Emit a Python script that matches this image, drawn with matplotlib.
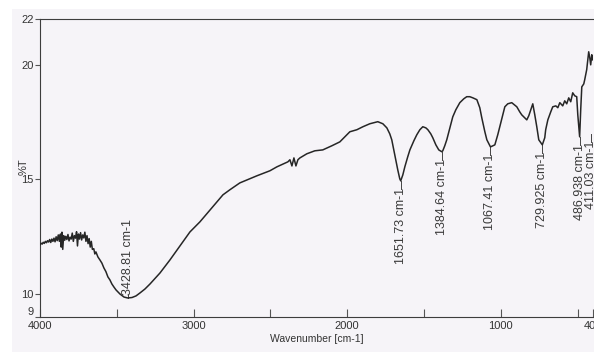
import matplotlib
matplotlib.use("Agg")
import matplotlib.pyplot as plt
from matplotlib.patches import Rectangle

# FTIR transmittance spectrum (wavenumber in cm-1, %T)
wavenumber = [
    4000, 3993, 3986, 3979, 3972, 3965, 3958, 3951, 3944, 3937, 3930, 3923,
    3916, 3909, 3902, 3895, 3888, 3881, 3874, 3867, 3862, 3857, 3852, 3846,
    3839, 3832, 3825, 3818, 3811, 3804, 3797, 3790, 3783, 3776, 3769, 3762,
    3756, 3750, 3743, 3736, 3729, 3722, 3715, 3708, 3701, 3694, 3687, 3680,
    3673, 3666, 3659, 3650, 3643, 3636, 3623, 3610, 3597, 3584, 3571, 3558,
    3545, 3532, 3518, 3505, 3479, 3453, 3428.81, 3401, 3375, 3349, 3317, 3284,
    3219, 3154, 3089, 3024, 2959, 2881, 2809, 2764, 2699, 2634, 2588, 2503,
    2458, 2386, 2373, 2360, 2347, 2334, 2321, 2308, 2263, 2211, 2159, 2100,
    2048, 1983, 1937, 1898, 1853, 1801, 1768, 1742, 1723, 1710, 1697, 1684,
    1671, 1658, 1651.73, 1638, 1625, 1606, 1592, 1566, 1547, 1527, 1508, 1488,
    1475, 1456, 1443, 1423, 1404, 1384.64, 1378, 1365, 1352, 1332, 1313, 1293,
    1267, 1241, 1222, 1202, 1182, 1156, 1137, 1124, 1104, 1091, 1067.41, 1052,
    1039, 1020, 1007, 987, 974, 955, 929, 896, 877, 864, 844, 831,
    818, 805, 792, 779, 766, 753, 729.925, 714, 708, 694, 675, 662,
    642, 629, 616, 597, 584, 571, 558, 545, 532, 519, 506, 499,
    486.938, 480, 473, 460, 454, 441, 434, 428, 421, 415, 408, 402,
]
transmittance = [
    12.15, 12.22, 12.18, 12.26, 12.21, 12.30, 12.24, 12.33, 12.27, 12.38, 12.25, 12.40,
    12.30, 12.44, 12.28, 12.50, 12.33, 12.58, 12.30, 12.62, 12.05, 12.70, 11.95, 12.55,
    12.35, 12.52, 12.38, 12.60, 12.32, 12.48, 12.40, 12.66, 12.30, 12.55, 12.44, 12.72,
    12.10, 12.62, 12.40, 12.68, 12.36, 12.58, 12.45, 12.70, 12.30, 12.55, 12.20, 12.42,
    12.05, 12.30, 11.95, 11.98, 11.75, 11.84, 11.62, 11.49, 11.35, 11.14, 10.98, 10.75,
    10.62, 10.44, 10.30, 10.18, 10.00, 9.87, 9.83, 9.85, 9.92, 10.05, 10.22, 10.44,
    10.92, 11.49, 12.10, 12.71, 13.15, 13.76, 14.33, 14.55, 14.85, 15.03, 15.16, 15.38,
    15.55, 15.77, 15.86, 15.59, 15.94, 15.59, 15.86, 15.94, 16.12, 16.25, 16.29, 16.47,
    16.64, 17.08, 17.17, 17.30, 17.43, 17.52, 17.43, 17.25, 16.99, 16.73, 16.29, 15.86,
    15.42, 15.03, 14.94, 15.20, 15.55, 15.99, 16.29, 16.69, 16.95, 17.17, 17.30, 17.25,
    17.17, 16.99, 16.82, 16.51, 16.29, 16.21, 16.25, 16.47, 16.73, 17.25, 17.73, 18.04,
    18.35, 18.52, 18.61, 18.61, 18.56, 18.48, 18.13, 17.69, 17.08, 16.73, 16.42, 16.47,
    16.51, 16.95, 17.30, 17.82, 18.17, 18.30, 18.35, 18.17, 17.95, 17.82, 17.69, 17.60,
    17.78, 18.04, 18.30, 17.82, 17.30, 16.73, 16.51, 16.82, 17.17, 17.60, 17.95, 18.17,
    18.21, 18.13, 18.35, 18.21, 18.43, 18.30, 18.56, 18.39, 18.78, 18.65, 18.61, 17.82,
    16.86, 18.04, 19.04, 19.17, 19.35, 19.79, 20.22, 20.57, 20.31, 20.00, 20.44, 20.22,
]

# Labelled absorption bands
peak_wavenumber = [3428.81, 1651.73, 1384.64, 1067.41, 729.925, 486.938, 411.03]
peak_transmittance = [9.83, 14.94, 16.21, 16.42, 16.51, 16.86, 17.0]
peak_labels = ["3428.81 cm-1", "1651.73 cm-1", "1384.64 cm-1", "1067.41 cm-1",
               "729.925 cm-1", "486.938 cm-1", "411.03 cm-1"]

x_ticks = [4000, 3000, 2000, 1000, 400]
x_tick_labels = ["4000", "3000", "2000", "1000", "400"]
x_minor_ticks = [3500, 2500, 1500, 500]
y_ticks = [9, 10, 15, 20, 22]
y_tick_labels = ["9", "10", "15", "20", "22"]

narrow = ["Liberation Sans Narrow", "Liberation Sans", "DejaVu Sans"]
sans = ["Liberation Sans", "DejaVu Sans"]

fig = plt.figure(figsize=(5.94, 3.52), dpi=100)
fig.patch.set_facecolor("white")
# paper tone of the scanned page
fig.add_artist(Rectangle((12 / 594, 0), 1, 343 / 352, transform=fig.transFigure,
                         facecolor="#f6f4f8", edgecolor="none", zorder=0))

ax = fig.add_axes([40 / 594, 35 / 352, 553 / 594, 298 / 352])
ax.set_facecolor("none")
ax.plot(wavenumber, transmittance, color="#262626", lw=1.1, zorder=3)

ax.set_xlim(4000, 400)
ax.set_ylim(9, 22)

ax.set_xticks(x_ticks)
ax.set_xticklabels(x_tick_labels, family=narrow, fontsize=8, color="#333333")
ax.set_xticks(x_minor_ticks, minor=True)
ax.set_yticks(y_ticks)
ax.set_yticklabels(y_tick_labels, family=narrow, fontsize=8, color="#333333")
for lbl in ax.get_yticklabels():
    if lbl.get_text() == "9":
        lbl.set_va("bottom")

ax.tick_params(axis="x", which="both", direction="in", length=6, width=0.8,
               color="#555555", pad=3)
ax.tick_params(axis="y", direction="out", length=3.5, width=0.8,
               color="#555555", pad=1)

for side in ("left", "bottom", "top"):
    ax.spines[side].set_color("#3d3d3d")
    ax.spines[side].set_linewidth(0.8)
ax.spines["right"].set_visible(False)

ax.set_xlabel("Wavenumber [cm-1]", family=narrow, fontsize=7.5, color="#333333",
              labelpad=2)
fig.text(24 / 594, 1 - 167 / 352, "%T", rotation=90, family=narrow, fontsize=8,
         color="#333333", ha="center", va="center")

lowest = min(peak_transmittance)
for wn, t, lab in zip(peak_wavenumber, peak_transmittance, peak_labels):
    if t == lowest:
        ax.plot([wn, wn], [t, t + 0.15], color="#444444", lw=0.7, clip_on=False)
        ax.text(wn, t + 0.12, lab, rotation=90, ha="center", va="bottom",
                family=sans, fontsize=9, color="#3a3a3a", clip_on=False)
    else:
        ax.plot([wn, wn], [t, t - 0.35], color="#444444", lw=0.7, clip_on=False)
        ax.text(wn, t - 0.3, lab, rotation=90, ha="center", va="top",
                family=sans, fontsize=9, color="#3a3a3a", clip_on=False)

fig.savefig("out.png", dpi=100)
